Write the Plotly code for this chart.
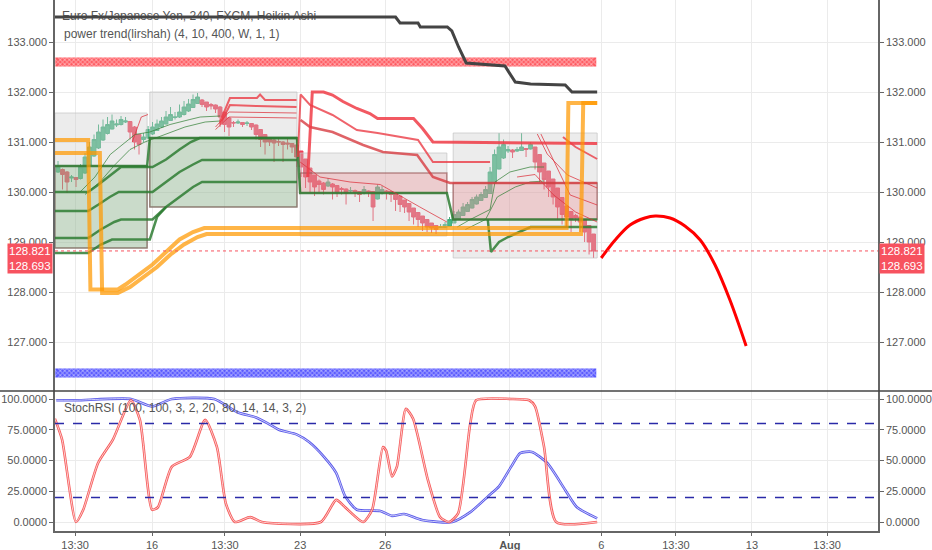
import plotly.graph_objects as go

# ---- Heikin Ashi candles, EUR/JPY 240 (bar index on x) ----
ha_open = [130.40, 130.45, 130.40, 130.28, 130.29, 130.27, 130.38, 130.54, 130.72, 130.88,
           131.04, 131.17, 131.26, 131.34, 131.35, 131.40, 131.41, 131.30, 131.15, 131.05,
           131.08, 131.16, 131.23, 131.30, 131.36, 131.43, 131.49, 131.50, 131.55, 131.62,
           131.69, 131.77, 131.84, 131.80, 131.75, 131.74, 131.70, 131.60, 131.48, 131.39,
           131.38, 131.39, 131.37, 131.37, 131.34, 131.25, 131.15, 131.08, 131.04, 131.01,
           131.00, 130.98, 130.97, 130.94, 130.82, 130.66, 130.48, 130.34, 130.22, 130.18,
           130.12, 130.16, 130.13, 130.07, 130.06, 130.02, 130.03, 130.01, 129.98, 130.02,
           130.01, 129.86, 129.98, 130.02, 130.01, 129.98, 129.92, 129.84, 129.77, 129.68,
           129.59, 129.52, 129.45, 129.38, 129.33, 129.29, 129.29, 129.32, 129.38, 129.46,
           129.53, 129.61, 129.68, 129.76, 129.83, 129.89, 129.97, 130.18, 130.46, 130.68,
           130.82, 130.84, 130.82, 130.83, 130.87, 130.86, 130.90, 130.75, 130.58, 130.42,
           130.26, 130.08, 129.89, 129.72, 129.61, 129.53, 129.50, 129.45, 129.33, 129.16]
ha_close = [130.50, 130.35, 130.20, 130.30, 130.25, 130.50, 130.70, 130.90, 131.05, 131.20,
            131.30, 131.35, 131.42, 131.36, 131.45, 131.42, 131.20, 131.00, 130.95, 131.10,
            131.25, 131.30, 131.36, 131.42, 131.50, 131.55, 131.50, 131.60, 131.70, 131.76,
            131.85, 131.90, 131.75, 131.70, 131.72, 131.66, 131.50, 131.35, 131.30, 131.38,
            131.40, 131.35, 131.38, 131.30, 131.15, 131.05, 131.00, 131.00, 130.98, 131.00,
            130.95, 130.96, 130.90, 130.70, 130.50, 130.30, 130.20, 130.10, 130.15, 130.05,
            130.20, 130.10, 130.00, 130.05, 129.98, 130.03, 130.00, 129.95, 130.05, 130.00,
            129.70, 130.10, 130.05, 130.00, 129.95, 129.85, 129.75, 129.70, 129.60, 129.50,
            129.45, 129.38, 129.30, 129.28, 129.25, 129.30, 129.35, 129.45, 129.55, 129.60,
            129.70, 129.75, 129.85, 129.90, 129.95, 130.05, 130.40, 130.75, 130.90, 130.95,
            130.85, 130.80, 130.85, 130.90, 130.85, 130.95, 130.60, 130.40, 130.25, 130.10,
            129.90, 129.70, 129.55, 129.50, 129.45, 129.48, 129.40, 129.20, 129.00, 128.82]
ha_high = [130.62, 130.47, 130.42, 130.34, 130.30, 130.56, 130.78, 131.00, 131.15, 131.35,
           131.45, 131.50, 131.55, 131.45, 131.52, 131.50, 131.42, 131.32, 131.16, 131.18,
           131.32, 131.40, 131.45, 131.50, 131.62, 131.70, 131.60, 131.75, 131.82, 131.86,
           131.95, 131.98, 131.86, 131.80, 131.78, 131.75, 131.72, 131.60, 131.50, 131.42,
           131.45, 131.40, 131.42, 131.38, 131.35, 131.26, 131.16, 131.10, 131.06, 131.10,
           131.02, 131.08, 130.98, 130.94, 130.82, 130.66, 130.48, 130.34, 130.25, 130.20,
           130.28, 130.18, 130.14, 130.10, 130.07, 130.10, 130.05, 130.02, 130.12, 130.03,
           130.01, 130.15, 130.12, 130.04, 130.02, 129.98, 129.92, 129.84, 129.77, 129.68,
           129.60, 129.52, 129.45, 129.38, 129.33, 129.36, 129.40, 129.50, 129.62, 129.65,
           129.78, 129.80, 129.90, 129.95, 130.00, 130.12, 130.50, 130.85, 131.18, 131.05,
           130.92, 130.86, 130.90, 131.18, 130.88, 131.00, 130.90, 130.75, 130.58, 130.42,
           130.26, 130.08, 129.89, 129.72, 129.61, 129.56, 129.50, 129.45, 129.33, 129.16]
ha_low = [130.38, 130.05, 129.98, 130.20, 130.10, 130.25, 130.36, 130.52, 130.70, 130.86,
          131.02, 131.15, 131.25, 131.30, 131.33, 131.38, 131.05, 130.85, 130.75, 131.00,
          131.06, 131.14, 131.22, 131.28, 131.35, 131.42, 131.45, 131.48, 131.53, 131.60,
          131.68, 131.76, 131.70, 131.62, 131.65, 131.58, 131.30, 131.20, 131.12, 131.30,
          131.36, 131.30, 131.32, 131.24, 131.05, 130.90, 130.75, 130.92, 130.60, 130.92,
          130.60, 130.85, 130.78, 130.50, 130.30, 130.08, 130.00, 129.92, 130.00, 129.95,
          130.10, 129.85, 129.90, 129.95, 129.75, 129.98, 129.90, 129.80, 129.95, 129.90,
          129.42, 129.85, 129.95, 129.85, 129.80, 129.62, 129.60, 129.58, 129.42, 129.35,
          129.30, 129.22, 129.20, 129.18, 129.16, 129.28, 129.28, 129.32, 129.38, 129.46,
          129.53, 129.60, 129.67, 129.75, 129.82, 129.88, 129.97, 130.18, 130.45, 130.66,
          130.78, 130.68, 130.80, 130.82, 130.70, 130.85, 130.45, 130.20, 130.05, 129.90,
          129.75, 129.45, 129.35, 129.30, 129.20, 129.40, 129.20, 129.00, 128.75, 128.68]
bars = list(range(len(ha_close)))
last_price = 128.821
prev_price = 128.693

# ---- power trend boxes (start bar, end bar, top, bottom) ----
box_x0 = [-0.7, 20.4, 53.8, 87.8]
box_x1 = [19.8, 53.1, 86.4, 119.8]
box_top = [131.58, 132.00, 130.78, 131.18]
box_bot = [128.88, 129.70, 129.12, 128.68]
green_fill_x0 = [-0.7, 20.4]
green_fill_x1 = [19.8, 53.1]
green_fill_top = [130.52, 131.08]
green_fill_bot = [128.88, 129.70]
red_fill_x0 = [53.8, 87.8]
red_fill_x1 = [86.4, 119.8]
red_fill_top = [130.38, 130.18]
red_fill_bot = [129.98, 129.45]

# ---- trend lines ----
black_x = [-0.7, 75, 76, 80, 80.5, 86.5, 87.5, 89, 90.7, 99.3, 101.6, 105, 112.7, 114.2, 119.8]
black_y = [133.5, 133.5, 133.38, 133.38, 133.3, 133.3, 133.22, 132.9, 132.58, 132.52, 132.2,
           132.16, 132.14, 132.0, 132.0]
red_band_level = 132.60
blue_band_level = 126.38

green_a_x = [-0.7, 19.8, 20.4, 53.1, 53.8, 86.4, 87.8, 119.8]
green_a_y = [130.52, 130.52, 131.08, 131.08, 129.98, 129.98, 129.45, 129.45]
green_b_x = [-0.7, 6.7, 9, 12, 14, 21, 24, 27, 29.5, 31.5, 53.1]
green_b_y = [130.0, 130.0, 130.15, 130.35, 130.5, 130.5, 130.65, 130.85, 131.0, 131.08, 131.08]
green_c_x = [-0.7, 6.7, 9, 11.5, 13.5, 21, 24, 27, 30, 32, 53.1]
green_c_y = [129.62, 129.62, 129.75, 129.9, 130.0, 130.0, 130.2, 130.4, 130.55, 130.64, 130.64]
green_d_x = [-0.7, 6.7, 9.5, 12.5, 14, 21, 24, 27, 30, 32, 53.1]
green_d_y = [129.08, 129.08, 129.25, 129.4, 129.45, 129.45, 129.7, 129.9, 130.1, 130.2, 130.2]
green_e_x = [-0.7, 6.7, 9.5, 12, 20.4, 22, 24]
green_e_y = [128.78, 128.78, 128.95, 129.05, 129.05, 129.5, 129.7]
green_f_x = [95.5, 96.2, 98, 100, 102.5, 105, 119.8]
green_f_y = [129.45, 128.8, 129.0, 129.1, 129.2, 129.3, 129.3]

thin_green_1_x = [4.9, 8.2, 11.6, 14.9, 17.1, 20.4, 24.9, 29.3, 31.6, 36]
thin_green_1_y = [130.0, 130.3, 130.75, 131.0, 131.15, 131.2, 131.35, 131.45, 131.5, 131.52]
thin_green_2_x = [6, 9.3, 12.7, 16, 19.3, 23.8, 28.2, 32.7, 36]
thin_green_2_y = [129.95, 130.2, 130.55, 130.85, 131.0, 131.15, 131.3, 131.4, 131.42]
thin_green_3_x = [88.7, 91.6, 96, 97.1, 100.4, 104.9, 108]
thin_green_3_y = [129.3, 129.45, 129.65, 130.2, 130.4, 130.5, 130.5]
thin_green_4_x = [90.5, 95, 97.6, 101.6, 104.9, 108]
thin_green_4_y = [129.25, 129.45, 129.9, 130.1, 130.2, 130.22]

red_1_x = [55.5, 56.5, 59, 61, 63.3, 66.4, 69.3, 71, 79, 81, 83.3, 119.8]
red_1_y = [130.3, 132.0, 132.0, 131.94, 131.81, 131.67, 131.57, 131.47, 131.47, 131.27, 131.0, 130.97]
red_2_x = [53.3, 53.9, 56, 61, 66.4, 71, 80, 83.3, 96]
red_2_y = [130.7, 131.95, 131.74, 131.54, 131.24, 131.18, 131.04, 130.6, 130.6]
red_3_x = [53.9, 56, 61, 67.8, 72.2, 79.8, 83.3, 87.1, 119.8]
red_3_y = [131.44, 131.3, 131.2, 130.94, 130.8, 130.74, 130.3, 130.18, 130.18]
red_b1_x = [36, 38.2, 44.2, 44.9, 46, 53]
red_b1_y = [131.4, 131.88, 131.88, 131.95, 131.84, 131.84]
red_b2_x = [36, 38.2, 44.2, 53]
red_b2_y = [131.35, 131.74, 131.72, 131.7]
red_d1_x = [112.2, 115, 119.8]
red_d1_y = [131.1, 130.9, 130.66]
thin_red_x = [[35, 38, 53], [35, 38, 53], [106.5, 108.7, 113.2, 119.8], [107.3, 113.8, 119.8],
              [102, 106, 110, 115, 119.8], [53.8, 58.2, 64.9, 71.6, 80.4, 86.4],
              [16.5, 18.5, 20]]
thin_red_y = [[131.3, 131.6, 131.58], [131.25, 131.5, 131.48], [131.16, 130.76, 130.34, 130.08],
              [131.16, 129.94, 129.74], [130.3, 130.35, 129.95, 129.6, 129.4],
              [130.6, 130.3, 130.2, 130.15, 129.7, 129.4], [131.0, 131.5, 131.55]]

orange_a_x = [-0.7, 6.7, 7.2, 13.3, 15, 18, 21, 24, 27, 30, 32.5, 113, 113.4, 119.8]
orange_a_y = [131.04, 131.04, 128.05, 128.05, 128.15, 128.35, 128.55, 128.8, 129.05, 129.2,
              129.28, 129.28, 131.78, 131.78]
orange_b_x = [-0.7, 9.3, 9.8, 13.3, 16, 19, 22, 25, 28, 31, 33, 116.2, 116.7, 119.8]
orange_b_y = [130.78, 130.78, 127.98, 127.98, 128.1, 128.3, 128.5, 128.75, 128.95, 129.1,
              129.16, 129.16, 131.78, 131.78]

proj_x = [120.7, 123.8, 127.1, 130.4, 132.7, 136, 139.3, 142.7, 146, 149.3, 152.9]
proj_y = [128.68, 129.04, 129.34, 129.48, 129.52, 129.48, 129.32, 129.04, 128.54, 127.84, 126.92]

# ---- StochRSI ----
stoch_k_x = [-0.7, 0.9, 4, 5.6, 8.9, 12.2, 16.2, 18.2, 20.9, 22.2, 25.3, 29.3, 32.7, 35.3, 37.3,
             39.3, 42.7, 45.3, 58.4, 61.8, 63.8, 67.8, 69.8, 72.2, 72.9, 74.2, 75.3, 77.3, 78.9,
             82.2, 84.9, 86.9, 88.9, 91.6, 92.9, 100.7, 104.7, 106, 108, 110.7, 119.8]
stoch_k = [84, 67, 0, 10, 48, 67, 99, 83, 10, 12, 45, 53, 83, 61, 15, 0, 4, 0, 0, 18, 12, 0, 10,
           61, 58, 37, 45, 92, 84, 34, 4, 0, 7, 80, 99, 100, 99, 94, 61, 0, 0]
stoch_d_x = [-0.4, 4.2, 16.2, 20.9, 25.3, 34.7, 40, 44, 46.7, 49.1, 53.1, 55.8, 59.1, 61.8, 63.8,
             66.4, 71.6, 74.2, 76.9, 80.9, 87.6, 91.6, 95.6, 98, 100.7, 102.7, 105.3, 108.7,
             112.7, 115.3, 119.8]
stoch_d = [99, 99, 100, 94, 100, 100, 89, 85, 80, 75, 71, 65, 53, 40, 21, 10, 9, 5, 6.5, 1.6, 0,
           8, 21, 29, 45, 56, 57, 48, 26, 12, 3]
stoch_levels = [80, 20]

# ---- time axis ----
tick_pos = [3.8, 20.9, 37.1, 53.8, 72.7, 100.4, 120.7, 137.3, 154.2, 170.9]
tick_text = ["13:30", "16", "13:30", "23", "26", "<b>Aug</b>", "6", "13:30", "13", "13:30"]
x_range = [-0.67, 182.2]
price_ticks = [127, 128, 129, 130, 131, 132, 133]
price_range = [126.02, 133.84]
stoch_ticks = [0, 25, 50, 75, 100]
stoch_range = [-7.3, 106.5]

PLOT_H = 531
SPLIT = 1 - 391 / PLOT_H
TXT = "#555555"
FONT = "Liberation Sans"


def line(xs, ys, color, width, yaxis="y", shape="linear", dash=None, smooth=None):
    ln = dict(color=color, width=width, shape=shape, dash=dash)
    if smooth is not None:
        ln["smoothing"] = smooth
    return go.Scatter(x=xs, y=ys, mode="lines", xaxis="x" if yaxis in ("y", "y3") else "x2",
                      yaxis=yaxis, line=ln, hoverinfo="skip", showlegend=False)


def rect(x0, x1, top, bot, fill, edge, width=1):
    return go.Scatter(x=[x0, x1, x1, x0, x0], y=[top, top, bot, bot, top], mode="lines",
                      fill="toself", fillcolor=fill, line=dict(color=edge, width=width),
                      hoverinfo="skip", showlegend=False)


traces = []
for x0, x1, t, b in zip(box_x0, box_x1, box_top, box_bot):
    traces.append(rect(x0, x1, t, b, "rgba(205,205,205,0.38)", "rgba(195,195,195,0.7)"))
for x0, x1, t, b in zip(green_fill_x0, green_fill_x1, green_fill_top, green_fill_bot):
    traces.append(rect(x0, x1, t, b, "rgba(80,160,80,0.22)", "rgba(125,100,90,0.75)", 1.5))
for x0, x1, t, b in zip(red_fill_x0, red_fill_x1, red_fill_top, red_fill_bot):
    traces.append(rect(x0, x1, t, b, "rgba(235,90,100,0.22)", "rgba(150,80,80,0.6)", 1.5))

# title text sits under the black line, as in the original
traces.append(go.Scatter(x=[0.9], y=[black_y[0]], mode="text", textposition="middle right",
                         text=["Euro Fx/Japanese Yen, 240, FXCM, Heikin Ashi"],
                         textfont=dict(family=FONT, size=12, color=TXT),
                         hoverinfo="skip", showlegend=False))

# cross bands
for lvl, col in [(red_band_level, "rgba(255,82,90,0.95)"), (blue_band_level, "rgba(80,80,255,0.95)")]:
    traces.append(line([bars[0] - 0.6, bars[-1] + 0.6], [lvl, lvl], col, 9))
    traces.append(go.Scatter(x=bars, y=[lvl] * len(bars), mode="markers",
                             marker=dict(symbol="x-thin", size=9,
                                         line=dict(width=1.2, color="rgba(255,255,255,0.3)")),
                             hoverinfo="skip", showlegend=False))

for xs, ys in [(green_a_x, green_a_y), (green_b_x, green_b_y), (green_c_x, green_c_y),
               (green_d_x, green_d_y), (green_e_x, green_e_y), (green_f_x, green_f_y)]:
    traces.append(line(xs, ys, "rgba(46,125,50,0.85)", 2.5))
for xs, ys in [(thin_green_1_x, thin_green_1_y), (thin_green_2_x, thin_green_2_y),
               (thin_green_3_x, thin_green_3_y), (thin_green_4_x, thin_green_4_y)]:
    traces.append(line(xs, ys, "rgba(46,125,50,0.7)", 1))
for xs, ys in zip(thin_red_x, thin_red_y):
    traces.append(line(xs, ys, "rgba(220,50,60,0.75)", 1))
for xs, ys in [(red_b1_x, red_b1_y), (red_b2_x, red_b2_y), (red_2_x, red_2_y), (red_d1_x, red_d1_y)]:
    traces.append(line(xs, ys, "rgba(235,60,70,0.8)", 2))
traces.append(line(red_3_x, red_3_y, "rgba(215,60,65,0.8)", 2.5))
traces.append(line(red_1_x, red_1_y, "rgba(240,60,70,0.85)", 3))

traces.append(go.Candlestick(
    x=bars, open=ha_open, high=ha_high, low=ha_low, close=ha_close,
    increasing=dict(line=dict(color="#3fae7c", width=1), fillcolor="#4cb887"),
    decreasing=dict(line=dict(color="#ef3b55", width=1), fillcolor="#f0435a"),
    whiskerwidth=0, hoverinfo="skip", showlegend=False))

traces.append(line(orange_a_x, orange_a_y, "rgba(255,152,0,0.72)", 4))
traces.append(line(orange_b_x, orange_b_y, "rgba(255,152,0,0.72)", 4))
traces.append(line(black_x, black_y, "#444444", 3))
traces.append(line(proj_x, proj_y, "#ff0000", 3, shape="spline"))
traces.append(go.Scatter(x=[x_range[0]], y=[price_range[0]], xaxis="x", yaxis="y3",
                         mode="markers", marker=dict(opacity=0), hoverinfo="skip", showlegend=False))

# StochRSI: a coloured line with a white core gives the doubled look
traces.append(line(stoch_d_x, stoch_d, "rgba(60,60,230,0.85)", 2.6, "y2", "spline", smooth=0.6))
traces.append(line(stoch_d_x, stoch_d, "white", 0.7, "y2", "spline", smooth=0.6))
traces.append(line(stoch_k_x, stoch_k, "rgba(245,60,60,0.85)", 2.6, "y2", "spline", smooth=0.6))
traces.append(line(stoch_k_x, stoch_k, "white", 0.7, "y2", "spline", smooth=0.6))
traces.append(go.Scatter(x=[x_range[0]], y=[0], xaxis="x2", yaxis="y4", mode="markers",
                         marker=dict(opacity=0), hoverinfo="skip", showlegend=False))

fig = go.Figure(traces)

axis_common = dict(showgrid=True, gridcolor="#ebebeb", zeroline=False, automargin=False,
                   tickfont=dict(family=FONT, size=11, color=TXT))
yax_common = dict(ticks="outside", ticklen=4, tickcolor="#666", showline=True,
                  linecolor="#666", linewidth=1.5, fixedrange=True)
right_common = dict(showgrid=False, zeroline=False, automargin=False,
                    tickfont=dict(family=FONT, size=11, color=TXT))

fig.update_layout(
    width=932, height=550, margin=dict(l=55, r=54, t=0, b=550 - PLOT_H, autoexpand=False),
    paper_bgcolor="white", plot_bgcolor="white", hovermode=False, showlegend=False,
    font=dict(family=FONT, size=11, color=TXT), boxgap=0.15, boxgroupgap=0,
    xaxis=dict(domain=[0, 1], anchor="y", range=x_range, tickvals=tick_pos,
               showticklabels=False, rangeslider=dict(visible=False), **axis_common),
    xaxis2=dict(domain=[0, 1], anchor="y2", matches="x", range=x_range, tickvals=tick_pos,
                ticktext=tick_text, ticks="outside", ticklen=3, tickcolor="#666",
                showline=True, linecolor="#666", linewidth=1.5, **axis_common),
    yaxis=dict(domain=[SPLIT, 1], range=price_range, tickvals=price_ticks, tickformat=".3f",
               side="left", **axis_common, **yax_common),
    yaxis3=dict(overlaying="y", side="right", anchor="x", range=price_range, tickvals=price_ticks,
                tickformat=".3f", **right_common, **yax_common),
    yaxis2=dict(domain=[0, SPLIT], anchor="x2", range=stoch_range, tickvals=stoch_ticks,
                tickformat=".4f", side="left", **axis_common, **yax_common),
    yaxis4=dict(overlaying="y2", side="right", anchor="x2", range=stoch_range,
                tickvals=stoch_ticks, tickformat=".4f", **right_common, **yax_common),
)

fig.add_shape(type="line", xref="paper", yref="y", x0=0, x1=1, y0=last_price, y1=last_price,
              line=dict(color="#f7525f", width=1, dash="dot"))
for lvl in stoch_levels:
    fig.add_shape(type="line", xref="paper", yref="y2", x0=0, x1=1, y0=lvl, y1=lvl,
                  line=dict(color="#2a2aa8", width=1.5, dash="dash"))
fig.add_shape(type="line", xref="paper", yref="paper", x0=-55 / 823, x1=1 + 54 / 823,
              y0=SPLIT, y1=SPLIT, line=dict(color="#444", width=1.5))

label = f"{last_price:.3f}<br>{prev_price:.3f}"
for xpos, anchor in [(-2 / 823, "right"), (1 + 1 / 823, "left")]:
    fig.add_annotation(x=xpos, xref="paper", y=prev_price - 0.03, yref="y",
                       text=label, showarrow=False, xanchor=anchor, yanchor="middle",
                       bgcolor="#f7525f", font=dict(family=FONT, size=11.5, color="white"),
                       borderpad=1, align="center")

fig.add_annotation(x=7 / 823, xref="paper", y=1 - 34 / PLOT_H, yref="paper",
                   text="power trend(lirshah) (4, 10, 400, W, 1, 1)", showarrow=False,
                   xanchor="left", yanchor="middle", font=dict(family=FONT, size=12, color=TXT))
fig.add_annotation(x=7 / 823, xref="paper", y=1 - 408 / PLOT_H, yref="paper",
                   text="StochRSI (100, 100, 3, 2, 20, 80, 14, 14, 3, 2)", showarrow=False,
                   xanchor="left", yanchor="middle", font=dict(family=FONT, size=12, color=TXT))

# the page's default body margin would shift the whole chart by 8px
fig.write_html("out.html", config={"displayModeBar": False},
               post_script="document.body.style.margin='0';")
